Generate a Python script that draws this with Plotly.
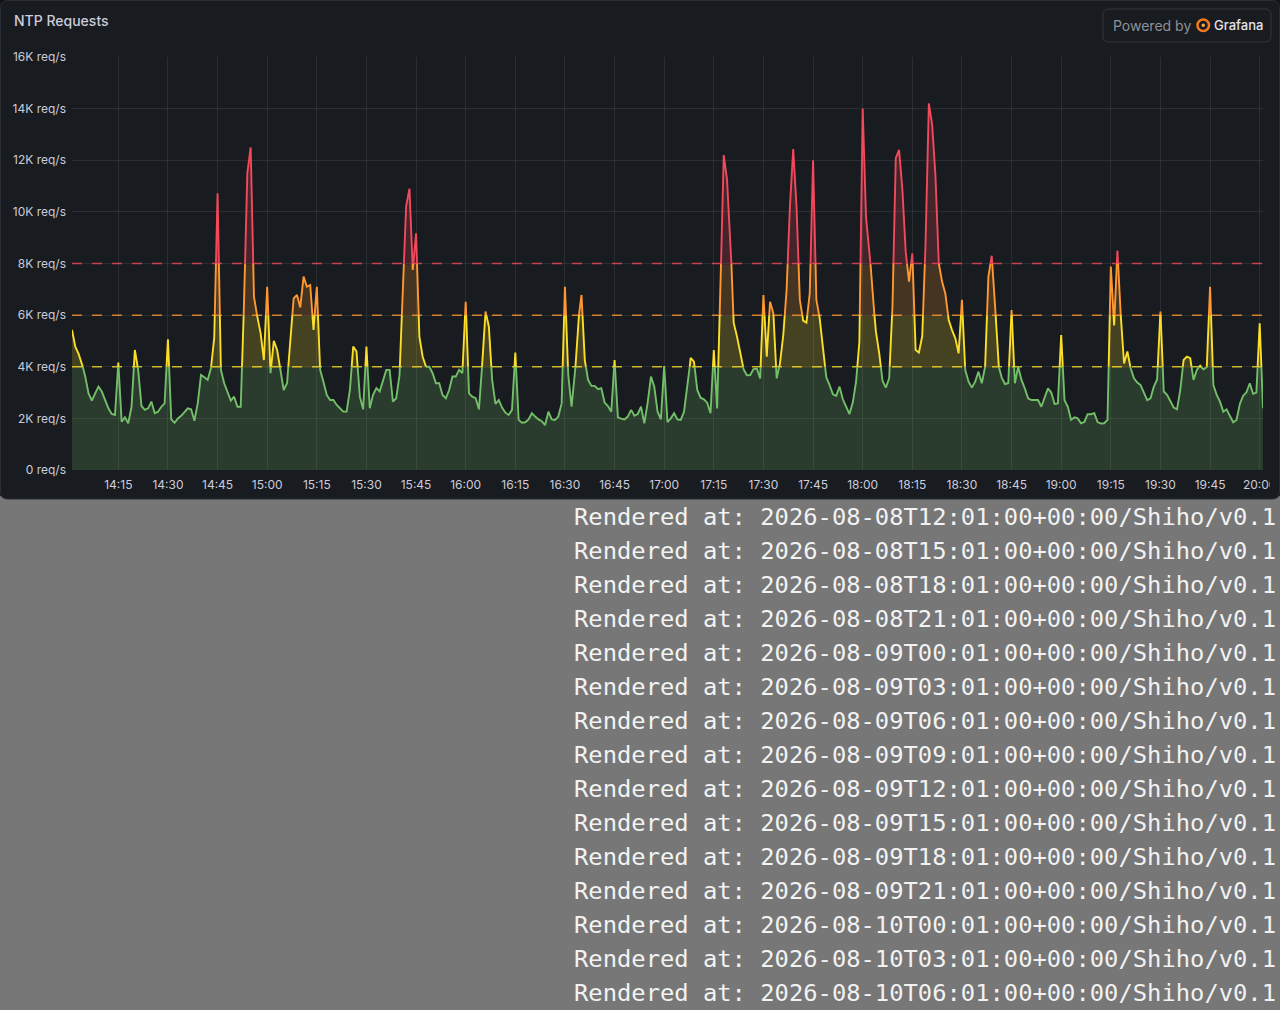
import datetime as dt
import plotly.graph_objects as go

# NTP request rate, K req/s, one value per minute from 14:01 (one row = 15 min)
rate_k = [
    5.43, 4.78, 4.5, 4.13, 3.62, 2.97, 2.69, 2.97, 3.23, 3.04, 2.71, 2.39, 2.17, 2.13, 4.16,
    1.87, 2.04, 1.81, 2.45, 4.65, 3.88, 2.48, 2.33, 2.39, 2.65, 2.2, 2.26, 2.45, 2.58, 5.06,
    1.96, 1.83, 2.0, 2.1, 2.26, 2.39, 2.35, 1.91, 2.58, 3.68, 3.59, 3.49, 3.94, 5.14, 10.72,
    3.88, 3.36, 3.04, 2.69, 2.84, 2.45, 2.45, 6.46, 11.5, 12.5, 6.72, 5.94, 5.3, 4.26, 7.1,
    3.75, 5.0, 4.65, 3.88, 3.1, 3.36, 5.04, 6.65, 6.78, 6.3, 7.49, 7.1, 7.17, 5.43, 7.1,
    3.88, 3.42, 2.91, 2.71, 2.71, 2.52, 2.39, 2.26, 2.26, 3.1, 4.78, 4.59, 2.84, 2.35, 4.78,
    2.39, 2.91, 3.17, 3.04, 3.42, 3.88, 3.88, 2.65, 2.78, 3.68, 6.98, 10.21, 10.9, 7.75, 9.17,
    5.17, 4.39, 4.0, 4.0, 3.75, 3.36, 3.36, 2.91, 2.78, 3.1, 3.62, 3.62, 3.88, 3.75, 6.52,
    2.97, 2.84, 2.78, 2.35, 4.1, 6.14, 5.56, 3.49, 2.56, 2.71, 2.42, 2.22, 2.13, 2.33, 4.55,
    1.94, 1.83, 1.85, 1.96, 2.2, 2.07, 1.96, 1.89, 1.74, 2.26, 1.96, 1.94, 2.07, 2.58, 7.1,
    3.68, 2.45, 3.62, 5.75, 6.78, 4.26, 3.49, 3.26, 3.26, 3.13, 3.17, 2.61, 2.48, 2.26, 4.26,
    2.04, 1.99, 1.96, 2.07, 2.33, 2.1, 2.17, 2.45, 1.81, 2.61, 3.62, 3.23, 2.26, 1.96, 4.03,
    1.85, 2.0, 2.2, 1.96, 1.94, 2.26, 3.17, 4.34, 4.2, 3.1, 2.8, 2.74, 2.61, 2.2, 4.65,
    2.38, 7.1, 12.2, 11.24, 9.0, 5.71, 5.17, 4.59, 3.9, 3.67, 3.68, 3.91, 3.93, 3.55, 6.78,
    4.39, 6.52, 6.07, 3.55, 4.13, 5.23, 6.98, 10.2, 12.43, 10.2, 6.59, 5.79, 5.71, 6.85, 12.0,
    6.59, 5.88, 4.72, 3.59, 3.29, 2.93, 2.87, 3.23, 2.74, 2.48, 2.17, 2.61, 3.42, 4.97, 14.0,
    9.8, 8.65, 6.78, 5.36, 4.52, 3.45, 3.19, 3.55, 6.33, 12.08, 12.4, 10.85, 8.46, 7.3, 8.39,
    4.65, 4.55, 5.19, 8.78, 14.2, 13.37, 11.37, 8.0, 7.3, 6.82, 5.81, 5.42, 5.1, 4.52, 6.59,
    3.87, 3.42, 3.19, 3.42, 3.81, 3.36, 4.0, 7.49, 8.3, 6.46, 4.07, 3.59, 3.33, 3.36, 6.2,
    3.36, 4.0, 3.49, 3.16, 2.78, 2.71, 2.71, 2.71, 2.45, 2.84, 3.16, 3.0, 2.56, 2.58, 5.23,
    2.71, 2.45, 1.94, 2.04, 2.0, 1.81, 1.86, 2.16, 2.16, 2.2, 1.86, 1.8, 1.81, 1.94, 7.88,
    5.6, 8.5, 6.0, 4.13, 4.59, 3.94, 3.55, 3.39, 3.29, 3.01, 2.71, 2.78, 3.23, 3.51, 6.14,
    3.04, 2.91, 2.69, 2.42, 2.35, 3.1, 4.26, 4.39, 4.33, 3.49, 3.88, 4.04, 3.9, 3.98, 7.1,
    3.29, 2.91, 2.65, 2.26, 2.35, 2.09, 1.85, 1.94, 2.56, 2.88, 3.01, 3.36, 2.95, 3.0, 5.68,
    2.39,
]

start = dt.datetime(2026, 8, 8, 14, 1)
thresholds = [4000, 6000, 8000]
band_colors = ['#73BF69', '#FADE2A', '#FF9830', '#F2495C']

y_ticks = [0, 2000, 4000, 6000, 8000, 10000, 12000, 14000, 16000]
y_labels = ['0 req/s', '2K req/s', '4K req/s', '6K req/s', '8K req/s',
            '10K req/s', '12K req/s', '14K req/s', '16K req/s']

rendered = [
    'Rendered at: 2026-08-08T12:01:00+00:00/Shiho/v0.1',
    'Rendered at: 2026-08-08T15:01:00+00:00/Shiho/v0.1',
    'Rendered at: 2026-08-08T18:01:00+00:00/Shiho/v0.1',
    'Rendered at: 2026-08-08T21:01:00+00:00/Shiho/v0.1',
    'Rendered at: 2026-08-09T00:01:00+00:00/Shiho/v0.1',
    'Rendered at: 2026-08-09T03:01:00+00:00/Shiho/v0.1',
    'Rendered at: 2026-08-09T06:01:00+00:00/Shiho/v0.1',
    'Rendered at: 2026-08-09T09:01:00+00:00/Shiho/v0.1',
    'Rendered at: 2026-08-09T12:01:00+00:00/Shiho/v0.1',
    'Rendered at: 2026-08-09T15:01:00+00:00/Shiho/v0.1',
    'Rendered at: 2026-08-09T18:01:00+00:00/Shiho/v0.1',
    'Rendered at: 2026-08-09T21:01:00+00:00/Shiho/v0.1',
    'Rendered at: 2026-08-10T00:01:00+00:00/Shiho/v0.1',
    'Rendered at: 2026-08-10T03:01:00+00:00/Shiho/v0.1',
    'Rendered at: 2026-08-10T06:01:00+00:00/Shiho/v0.1',
]

rate = [v * 1000 for v in rate_k]
times = [start + dt.timedelta(minutes=i) for i in range(len(rate))]
end = times[-1]


def band(v):
    return sum(v > t for t in thresholds)


# split the line where it crosses a threshold so each piece gets its band colour
runs = []
for i in range(len(rate) - 1):
    y0, y1 = rate[i], rate[i + 1]
    cuts = [0.0, 1.0]
    for t in thresholds:
        if (y0 - t) * (y1 - t) < 0:
            cuts.append((t - y0) / (y1 - y0))
    cuts.sort()
    for a, b in zip(cuts[:-1], cuts[1:]):
        ya = y0 + (y1 - y0) * a
        yb = y0 + (y1 - y0) * b
        k = band((ya + yb) / 2)
        xb = times[i] + dt.timedelta(minutes=b)
        if runs and runs[-1][0] == k:
            runs[-1][1].append(xb)
            runs[-1][2].append(yb)
        else:
            runs.append((k, [times[i] + dt.timedelta(minutes=a), xb], [ya, yb]))

# figure pixel geometry
W, H = 1280, 1010
L, R, T, B = 72, 1263, 57, 470


def px(x):
    return (x - L) / (R - L)


def py(y):
    return (B - y) / (B - T)


def rounded(x0, y0, x1, y1, r):
    pts = [
        ('M', x0 + r, y0), ('L', x1 - r, y0), ('Q', x1, y0, x1, y0 + r),
        ('L', x1, y1 - r), ('Q', x1, y1, x1 - r, y1), ('L', x0 + r, y1),
        ('Q', x0, y1, x0, y1 - r), ('L', x0, y0 + r), ('Q', x0, y0, x0 + r, y0),
    ]
    out = []
    for p in pts:
        c = p[0]
        vals = p[1:]
        coords = []
        for j in range(0, len(vals), 2):
            coords.append('%.5f,%.5f' % (px(vals[j]), py(vals[j + 1])))
        out.append(c + ' '.join(coords))
    return ' '.join(out) + ' Z'


fig = go.Figure()

fill_scale = [
    [0, 'rgba(115,191,105,0.2)'], [0.25, 'rgba(115,191,105,0.2)'],
    [0.25, 'rgba(250,222,42,0.2)'], [0.375, 'rgba(250,222,42,0.2)'],
    [0.375, 'rgba(255,152,48,0.2)'], [0.5, 'rgba(255,152,48,0.2)'],
    [0.5, 'rgba(242,73,92,0.2)'], [1, 'rgba(242,73,92,0.2)'],
]
fig.add_trace(go.Scatter(
    x=times, y=rate, mode='lines', line=dict(width=0), fill='tozeroy',
    fillgradient=dict(type='vertical', colorscale=fill_scale, start=0, stop=16000),
    hoverinfo='skip', showlegend=False,
))

for t, c in zip(thresholds, band_colors[1:]):
    fig.add_trace(go.Scatter(
        x=[start, end], y=[t, t], mode='lines', opacity=0.8,
        line=dict(color=c, width=1.5, dash='10px,10px'),
        hoverinfo='skip', showlegend=False,
    ))

for k in range(4):
    xs, ys = [], []
    for rk, rx, ry in runs:
        if rk == k:
            xs += rx + [None]
            ys += ry + [None]
    fig.add_trace(go.Scatter(
        x=xs, y=ys, mode='lines', line=dict(color=band_colors[k], width=1.9),
        connectgaps=False, showlegend=False,
    ))

tick_font = dict(family='Inter', size=12, color='#ccccdc')

fig.update_xaxes(
    type='date', range=[start, end], tickformat='%H:%M',
    tick0='2026-08-08 14:00', dtick=15 * 60 * 1000,
    showgrid=True, gridcolor='rgba(204,204,220,0.1)', gridwidth=1,
    zeroline=False, showline=False, ticks='', tickfont=tick_font,
    ticklabelstandoff=6,
)
fig.update_yaxes(
    range=[0, 16000], tickvals=y_ticks, ticktext=y_labels,
    showgrid=True, gridcolor='rgba(204,204,220,0.1)', gridwidth=1,
    zeroline=False, showline=False, ticks='', tickfont=tick_font,
    ticklabelstandoff=5,
)

shapes = [
    dict(type='rect', xref='paper', yref='paper', x0=px(0), x1=px(W), y0=py(0), y1=py(496),
         fillcolor='#111217', line=dict(width=0), layer='below'),
    dict(type='path', xref='paper', yref='paper', path=rounded(0.5, 0.5, 1279.5, 499, 7),
         fillcolor='#181b1f', line=dict(color='#2a2d33', width=1), layer='below'),
    dict(type='path', xref='paper', yref='paper', path=rounded(1103, 9, 1271, 42, 6),
         fillcolor='#181b1f', line=dict(color='#34373d', width=1), layer='above'),
    dict(type='circle', xref='paper', yref='paper',
         x0=px(1197.5), x1=px(1209), y0=py(19.5), y1=py(31),
         fillcolor='rgba(0,0,0,0)', line=dict(color='#f47a20', width=2.5), layer='above'),
    dict(type='circle', xref='paper', yref='paper',
         x0=px(1201.5), x1=px(1205), y0=py(23.5), y1=py(27),
         fillcolor='#fbb03b', line=dict(width=0), layer='above'),
    dict(type='rect', xref='paper', yref='paper', x0=px(1270), x1=px(1277.5), y0=py(474), y1=py(495),
         fillcolor='#181b1f', line=dict(width=0), layer='above'),
]

annotations = [
    dict(text='NTP Requests', x=px(12), y=py(21), xref='paper', yref='paper',
         xanchor='left', yanchor='middle', showarrow=False,
         font=dict(family='Inter', size=14, color='#ccccdc', weight=500)),
    dict(text='Powered by', x=px(1111), y=py(25), xref='paper', yref='paper',
         xanchor='left', yanchor='middle', showarrow=False,
         font=dict(family='Inter', size=14, color='#8e9099')),
    dict(text='Grafana', x=px(1212), y=py(25), xref='paper', yref='paper',
         xanchor='left', yanchor='middle', showarrow=False,
         font=dict(family='Inter', size=13, color='#e4e4ea', weight=500)),
]
for i, line in enumerate(rendered):
    annotations.append(dict(
        text=line, x=px(572), y=py(517 + 34 * i), xref='paper', yref='paper',
        xanchor='left', yanchor='middle', showarrow=False,
        font=dict(family='DejaVu Sans Mono', size=23.8, color='#f2f2f2'),
    ))

fig.update_layout(
    width=W, height=H,
    margin=dict(l=L, r=W - R, t=T, b=H - B, autoexpand=False),
    paper_bgcolor='#777777', plot_bgcolor='rgba(0,0,0,0)',
    shapes=shapes, annotations=annotations, showlegend=False,
    hovermode=False,
)

# page body has a default 8px margin; drop it so the figure sits at the corner
fig.write_html('out.html', config={'displayModeBar': False},
               post_script="document.body.style.margin='0';")
